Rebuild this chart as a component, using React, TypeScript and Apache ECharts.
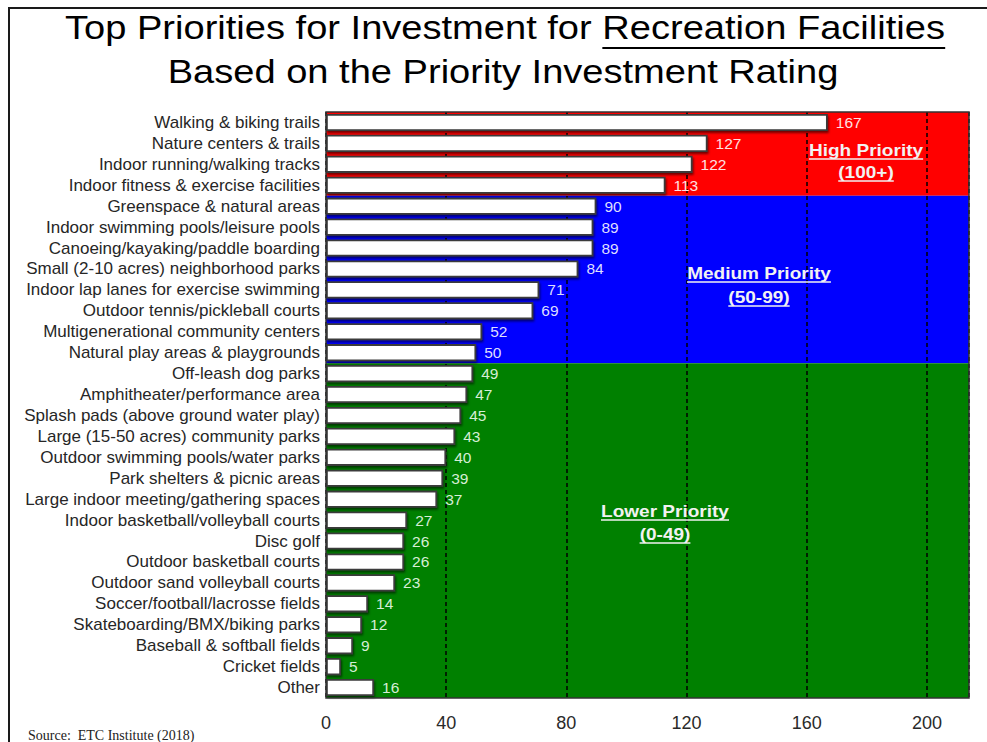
import React, { useEffect, useRef } from "react";
import * as echarts from "echarts";

const categories: string[] = [
  "Walking & biking trails",
  "Nature centers & trails",
  "Indoor running/walking tracks",
  "Indoor fitness & exercise facilities",
  "Greenspace & natural areas",
  "Indoor swimming pools/leisure pools",
  "Canoeing/kayaking/paddle boarding",
  "Small (2-10 acres) neighborhood parks",
  "Indoor lap lanes for exercise swimming",
  "Outdoor tennis/pickleball courts",
  "Multigenerational community centers",
  "Natural play areas & playgrounds",
  "Off-leash dog parks",
  "Amphitheater/performance area",
  "Splash pads (above ground water play)",
  "Large (15-50 acres) community parks",
  "Outdoor swimming pools/water parks",
  "Park shelters & picnic areas",
  "Large indoor meeting/gathering spaces",
  "Indoor basketball/volleyball courts",
  "Disc golf",
  "Outdoor basketball courts",
  "Outdoor sand volleyball courts",
  "Soccer/football/lacrosse fields",
  "Skateboarding/BMX/biking parks",
  "Baseball & softball fields",
  "Cricket fields",
  "Other",
];

const values: number[] = [
  167, 127, 122, 113, 90, 89, 89, 84, 71, 69, 52, 50, 49, 47, 45, 43, 40, 39,
  37, 27, 26, 26, 23, 14, 12, 9, 5, 16,
];

const xTicks: number[] = [0, 40, 80, 120, 160, 200];
const xMax = 214;

// band definitions: rows counted from the top
const bandRows: number[] = [4, 8, 16];
const bandColors: string[] = ["#ff0000", "#0000ff", "#008000"];
const bandLabelColors: string[] = ["#ffe2e2", "#dedeff", "#d6eed6"];
const bandTitles: string[] = ["High Priority", "Medium Priority", "Lower Priority"];
const bandRanges: string[] = ["(100+)", "(50-99)", "(0-49)"];

const titleLine1Prefix = "Top Priorities for Investment for ";
const titleLine1Underlined = "Recreation Facilities";
const titleLine2 = "Based on the Priority Investment Rating";
const sourceText = "Source:  ETC Institute (2018)";

const FONT = "'Liberation Sans', Arial, Helvetica, sans-serif";
const SX = 1.12;

function measure(text: string, font: string): number {
  const c = document.createElement("canvas").getContext("2d");
  if (!c) return text.length * 8;
  c.font = font;
  return c.measureText(text).width;
}

export default function App() {
  const ref = useRef<HTMLDivElement>(null);

  useEffect(() => {
    if (!ref.current) return;
    const chart = echarts.init(ref.current, undefined, { renderer: "svg" });

    const rowBand: number[] = [];
    bandRows.forEach((n, b) => {
      for (let i = 0; i < n; i++) rowBand.push(b);
    });

    const barData = values.map((v, i) => ({
      value: v,
      label: { color: bandLabelColors[rowBand[i]] },
    }));

    let start = 0;
    const areas = bandRows.map((n, b) => {
      const a = [
        { xAxis: 0, yAxis: start, itemStyle: { color: bandColors[b], opacity: 1 } },
        { xAxis: xMax, yAxis: start + n },
      ];
      start += n;
      return a;
    });

    const graphics: any[] = [];
    graphics.push({
      type: "rect",
      shape: { x: 9, y: 8, width: 1100, height: 900 },
      style: { fill: "none", stroke: "#1a1a1a", lineWidth: 2 },
      z: 100,
      silent: true,
    });

    const titleFont = `34px ${FONT}`;
    const full1 = titleLine1Prefix + titleLine1Underlined;
    const w1 = measure(full1, titleFont) * SX;
    const wp = measure(titleLine1Prefix, titleFont) * SX;
    const cx = 505;
    graphics.push({
      type: "text",
      x: cx,
      y: 27,
      scaleX: SX,
      style: {
        text: full1,
        font: titleFont,
        fill: "#000",
        align: "center",
        verticalAlign: "middle",
      },
      z: 50,
    });
    graphics.push({
      type: "line",
      shape: { x1: cx - w1 / 2 + wp, y1: 48, x2: cx + w1 / 2, y2: 48 },
      style: { stroke: "#000", lineWidth: 2 },
      z: 50,
    });
    graphics.push({
      type: "text",
      x: 503,
      y: 71,
      scaleX: SX,
      style: {
        text: titleLine2,
        font: titleFont,
        fill: "#000",
        align: "center",
        verticalAlign: "middle",
      },
      z: 50,
    });

    const annPos = [
      [866, 150, 172],
      [759, 273, 297],
      [665, 511, 534],
    ];
    const annFont = `bold 17px ${FONT}`;
    bandTitles.forEach((t, b) => {
      const [x, y1, y2] = annPos[b];
      [t, bandRanges[b]].forEach((s, k) => {
        const y = k === 0 ? y1 : y2;
        const w = measure(s, annFont) * SX;
        graphics.push({
          type: "text",
          x,
          y,
          scaleX: SX,
          style: {
            text: s,
            font: annFont,
            fill: "#f2f2f2",
            align: "center",
            verticalAlign: "middle",
          },
          z: 50,
        });
        graphics.push({
          type: "line",
          shape: { x1: x - w / 2, y1: y + 9, x2: x + w / 2, y2: y + 9 },
          style: { stroke: "#f2f2f2", lineWidth: 1.5 },
          z: 50,
        });
      });
    });

    graphics.push({
      type: "text",
      x: 28,
      y: 735,
      style: {
        text: sourceText,
        font: `14px 'Liberation Serif', 'Times New Roman', serif`,
        fill: "#222",
        align: "left",
        verticalAlign: "middle",
      },
      z: 50,
    });

    chart.setOption({
      animation: false,
      grid: {
        left: 326,
        right: 18,
        top: 112,
        bottom: 44,
        show: true,
        borderColor: "#333",
        borderWidth: 1.5,
        backgroundColor: "transparent",
        z: 3,
      },
      xAxis: {
        type: "value",
        min: 0,
        max: xMax,
        interval: xTicks[1] - xTicks[0],
        z: 1.5,
        axisLine: { show: false },
        axisTick: { show: false },
        axisLabel: {
          show: true,
          showMaxLabel: false,
          fontSize: 18,
          color: "#2a2a2a",
          fontFamily: FONT,
          margin: 16,
          formatter: (v: number) => (xTicks.indexOf(v) >= 0 ? String(v) : ""),
        },
        splitLine: {
          show: true,
          lineStyle: { color: "#000", width: 1.5, type: [4, 3] },
        },
      },
      yAxis: [
        {
          type: "category",
          data: categories,
          inverse: true,
          axisLine: { show: false },
          axisTick: { show: false },
          axisLabel: {
            interval: 0,
            hideOverlap: false,
            fontSize: 17,
            lineHeight: 18,
            color: "#262626",
            fontFamily: FONT,
            margin: 6,
          },
        },
        {
          type: "value",
          min: 0,
          max: categories.length,
          inverse: true,
          show: false,
        },
      ],
      series: [
        {
          type: "line",
          yAxisIndex: 1,
          data: [[0, 0]],
          showSymbol: false,
          symbol: "none",
          lineStyle: { opacity: 0 },
          z: 0,
          silent: true,
          markArea: {
            silent: true,
            z: 0,
            data: areas,
          },
        },
        {
          type: "bar",
          yAxisIndex: 0,
          data: barData,
          barWidth: "82%",
          z: 2,
          itemStyle: {
            color: "#ffffff",
            borderColor: "#3a3a3a",
            borderWidth: 1.8,
            shadowColor: "rgba(0,0,0,0.55)",
            shadowOffsetX: 1,
            shadowOffsetY: 2,
            shadowBlur: 2,
          },
          label: {
            show: true,
            position: "right",
            distance: 8,
            fontSize: 15.5,
            fontFamily: FONT,
          },
        },
      ],
      graphic: graphics,
    });

    return () => chart.dispose();
  }, []);

  return (
    <div
      ref={ref}
      style={{ position: "fixed", left: 0, top: 0, width: 987, height: 742, background: "#fff" }}
    />
  );
}
